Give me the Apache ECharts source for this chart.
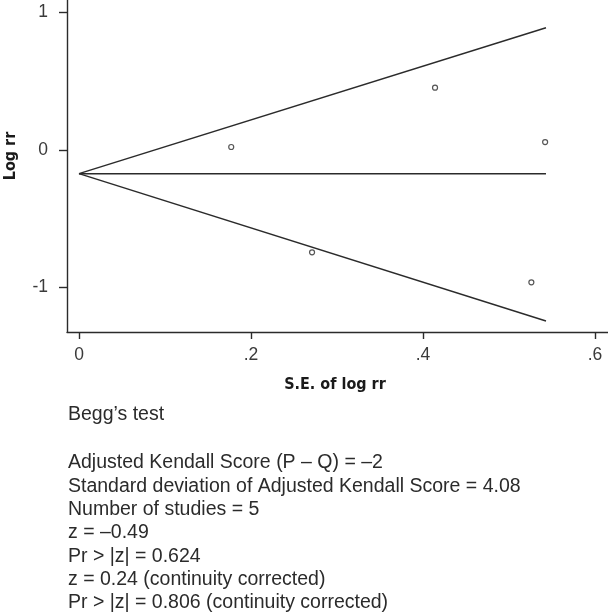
<!DOCTYPE html>
<html><head><meta charset="utf-8">
<script src="https://cdn.jsdelivr.net/npm/echarts@6/dist/echarts.min.js"></script>
<style>html,body{margin:0;padding:0;background:#fff}#c{width:608px;height:613px}</style>
</head><body><div id="c"></div>
<script>
// Study points (S.E. of log rr, log rr)
const studySE = [0.177, 0.414, 0.542, 0.271, 0.526];
const studyLogRR = [0.022, 0.453, 0.058, -0.744, -0.962];
// Pooled estimate and pseudo 95% limits
const lineSE = [0, 0.543];
const pooled = [-0.172, -0.172];
const upperLimit = [-0.172, 0.889];
const lowerLimit = [-0.172, -1.244];
// Tick labels
const xTicks = [0, 0.2, 0.4, 0.6];
const xTickLabels = ['0', '.2', '.4', '.6'];
const yTicks = [-1, 0, 1];
const yTickLabels = ['-1', '0', '1'];
// Titles and text
const xTitle = 'S.E. of log rr';
const yTitle = 'Log rr';
const testTitle = "Begg’s test";
const testLines = [
  'Adjusted Kendall Score (P – Q) = –2',
  'Standard deviation of Adjusted Kendall Score = 4.08',
  'Number of studies = 5',
  'z = –0.49',
  'Pr > |z| = 0.624',
  'z = 0.24 (continuity corrected)',
  'Pr > |z| = 0.806 (continuity corrected)'
];

const lineColor = '#2b2b2b';
const textColor = '#2b2b2b';
const bodyFont = '"Liberation Sans", Arial, sans-serif';
const boldFont = '"DejaVu Sans Condensed", "DejaVu Sans", sans-serif';

const zip = (a, b) => a.map((v, i) => [v, b[i]]);

const graphics = [
  { type: 'text', x: 11, y: 156, rotation: Math.PI / 2,
    style: { text: yTitle, fill: '#1a1a1a', font: 'bold 16px ' + boldFont, textAlign: 'center', textVerticalAlign: 'middle' } },
  { type: 'text', x: 335, y: 385,
    style: { text: xTitle, fill: '#1a1a1a', font: 'bold 16px ' + boldFont, textAlign: 'center', textVerticalAlign: 'middle' } },
  { type: 'text', x: 68, y: 415,
    style: { text: testTitle, fill: textColor, font: '19.5px ' + bodyFont, textAlign: 'left', textVerticalAlign: 'middle' } }
];
testLines.forEach((t, i) => {
  graphics.push({ type: 'text', x: 68, y: 463 + i * 23.3,
    style: { text: t, fill: textColor, font: '19.5px ' + bodyFont, textAlign: 'left', textVerticalAlign: 'middle' } });
});

const chart = echarts.init(document.getElementById('c'), null, { renderer: 'canvas' });
chart.setOption({
  animation: false,
  backgroundColor: '#fff',
  grid: { left: 67, top: 0, width: 541, height: 332, containLabel: false },
  xAxis: {
    type: 'value', min: -12 / 860, max: 529 / 860,
    splitLine: { show: false },
    axisLine: { onZero: false, lineStyle: { color: lineColor, width: 1.4 } },
    axisTick: { show: true, length: 7, customValues: xTicks, lineStyle: { color: lineColor, width: 1.4 } },
    axisLabel: { customValues: xTicks, margin: 14, color: '#3a3a3a', fontSize: 17.5, fontFamily: bodyFont,
      formatter: v => xTickLabels[xTicks.findIndex(t => Math.abs(t - v) < 1e-9)] }
  },
  yAxis: {
    type: 'value', min: -182 / 137.5, max: 150 / 137.5,
    splitLine: { show: false },
    axisLine: { show: true, onZero: false, lineStyle: { color: lineColor, width: 1.4 } },
    axisTick: { show: true, length: 8, customValues: yTicks, lineStyle: { color: lineColor, width: 1.4 } },
    axisLabel: { customValues: yTicks, margin: 19, color: '#3a3a3a', fontSize: 17.5, fontFamily: bodyFont,
      formatter: v => yTickLabels[yTicks.findIndex(t => Math.abs(t - v) < 1e-9)] }
  },
  series: [
    { type: 'line', data: zip(lineSE, upperLimit), symbol: 'none', lineStyle: { color: lineColor, width: 1.5 } },
    { type: 'line', data: zip(lineSE, pooled), symbol: 'none', lineStyle: { color: lineColor, width: 1.5 } },
    { type: 'line', data: zip(lineSE, lowerLimit), symbol: 'none', lineStyle: { color: lineColor, width: 1.5 } },
    { type: 'scatter', data: zip(studySE, studyLogRR), symbol: 'circle', symbolSize: 5,
      itemStyle: { color: '#fff', borderColor: lineColor, borderWidth: 1.2 } }
  ],
  graphic: graphics
});
</script></body></html>
